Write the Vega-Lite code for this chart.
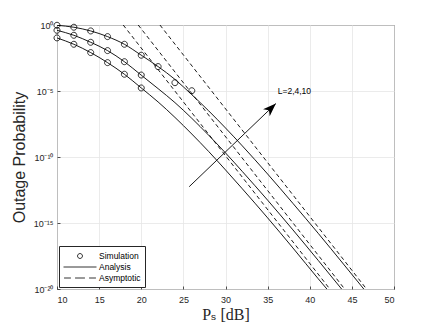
{
  "$schema": "https://vega.github.io/schema/vega-lite/v6.json",
  "width": 337,
  "height": 264,
  "autosize": {"type": "none"},
  "padding": {"left": 57, "top": 25, "right": 42, "bottom": 38},
  "background": "white",
  "config": {
    "view": {"stroke": "#262626", "strokeWidth": 1},
    "axis": {
      "labelFont": "Liberation Sans",
      "labelFontSize": 9,
      "labelColor": "#262626",
      "gridColor": "#e6e6e6",
      "gridWidth": 0.8,
      "domain": false,
      "tickColor": "#262626",
      "tickSize": -3,
      "tickWidth": 0.8
    }
  },
  "datasets": {
    "asym": [
      {"L": "2", "x": 17.86, "P": 1},
      {"L": "2", "x": 42.38, "P": 1e-20},
      {"L": "4", "x": 19.64, "P": 1},
      {"L": "4", "x": 44.14, "P": 1e-20},
      {"L": "10", "x": 22.22, "P": 1},
      {"L": "10", "x": 46.74, "P": 1e-20}
    ],
    "analysis": [
      {"L": "2", "x": 10, "P": 0.105},
      {"L": "2", "x": 12, "P": 0.0347},
      {"L": "2", "x": 14, "P": 8.13e-3},
      {"L": "2", "x": 16, "P": 1.41e-3},
      {"L": "2", "x": 18, "P": 1.86e-4},
      {"L": "2", "x": 20, "P": 1.70e-5},
      {"L": "2", "x": 22, "P": 1.48e-6},
      {"L": "2", "x": 24, "P": 1.0e-7},
      {"L": "2", "x": 26, "P": 5.50e-9},
      {"L": "2", "x": 28, "P": 2.63e-10},
      {"L": "2", "x": 30, "P": 1.05e-11},
      {"L": "2", "x": 32, "P": 3.89e-13},
      {"L": "2", "x": 35, "P": 2.45e-15},
      {"L": "2", "x": 38, "P": 1.29e-17},
      {"L": "2", "x": 41, "P": 6.03e-20},
      {"L": "2", "x": 43, "P": 1.86e-21},
      {"L": "4", "x": 10, "P": 0.398},
      {"L": "4", "x": 12, "P": 0.166},
      {"L": "4", "x": 14, "P": 0.049},
      {"L": "4", "x": 16, "P": 0.0115},
      {"L": "4", "x": 18, "P": 1.66e-3},
      {"L": "4", "x": 20, "P": 1.58e-4},
      {"L": "4", "x": 22, "P": 1.51e-5},
      {"L": "4", "x": 24, "P": 1.32e-6},
      {"L": "4", "x": 26, "P": 8.51e-8},
      {"L": "4", "x": 28, "P": 4.47e-9},
      {"L": "4", "x": 30, "P": 2.04e-10},
      {"L": "4", "x": 32, "P": 7.94e-12},
      {"L": "4", "x": 35, "P": 5.37e-14},
      {"L": "4", "x": 38, "P": 3.02e-16},
      {"L": "4", "x": 41, "P": 1.48e-18},
      {"L": "4", "x": 44, "P": 6.76e-21},
      {"L": "10", "x": 10, "P": 0.955},
      {"L": "10", "x": 12, "P": 0.676},
      {"L": "10", "x": 14, "P": 0.355},
      {"L": "10", "x": 16, "P": 0.132},
      {"L": "10", "x": 18, "P": 0.0347},
      {"L": "10", "x": 20, "P": 5.13e-3},
      {"L": "10", "x": 22, "P": 7.08e-4},
      {"L": "10", "x": 24, "P": 7.59e-5},
      {"L": "10", "x": 26, "P": 5.25e-6},
      {"L": "10", "x": 28, "P": 3.16e-7},
      {"L": "10", "x": 30, "P": 1.58e-8},
      {"L": "10", "x": 32, "P": 6.92e-10},
      {"L": "10", "x": 35, "P": 5.13e-12},
      {"L": "10", "x": 38, "P": 3.09e-14},
      {"L": "10", "x": 41, "P": 1.66e-16},
      {"L": "10", "x": 44, "P": 7.76e-19},
      {"L": "10", "x": 47, "P": 3.47e-21}
    ],
    "sim": [
      {"L": "2", "series": "Simulation", "x": 10, "P": 0.105},
      {"L": "2", "series": "Simulation", "x": 12, "P": 0.0347},
      {"L": "2", "series": "Simulation", "x": 14, "P": 8.13e-3},
      {"L": "2", "series": "Simulation", "x": 16, "P": 1.41e-3},
      {"L": "2", "series": "Simulation", "x": 18, "P": 1.86e-4},
      {"L": "2", "series": "Simulation", "x": 20, "P": 1.70e-5},
      {"L": "4", "series": "Simulation", "x": 10, "P": 0.398},
      {"L": "4", "series": "Simulation", "x": 12, "P": 0.166},
      {"L": "4", "series": "Simulation", "x": 14, "P": 0.049},
      {"L": "4", "series": "Simulation", "x": 16, "P": 0.0115},
      {"L": "4", "series": "Simulation", "x": 18, "P": 1.66e-3},
      {"L": "4", "series": "Simulation", "x": 20, "P": 1.62e-4},
      {"L": "10", "series": "Simulation", "x": 10, "P": 0.955},
      {"L": "10", "series": "Simulation", "x": 12, "P": 0.676},
      {"L": "10", "series": "Simulation", "x": 14, "P": 0.355},
      {"L": "10", "series": "Simulation", "x": 16, "P": 0.132},
      {"L": "10", "series": "Simulation", "x": 18, "P": 0.0347},
      {"L": "10", "series": "Simulation", "x": 20, "P": 5.13e-3},
      {"L": "10", "series": "Simulation", "x": 22, "P": 7.08e-4},
      {"L": "10", "series": "Simulation", "x": 24, "P": 4.27e-5},
      {"L": "10", "series": "Simulation", "x": 26, "P": 1.05e-5}
    ],
    "arrow": [
      {"x": 25.69, "P": 5.62e-13},
      {"x": 35.98, "P": 1.12e-6}
    ],
    "note": [
      {"x": 36.2, "P": 1e-5, "label": "L=2,4,10"}
    ],
    "xticks": [
      {"x": 15}, {"x": 20}, {"x": 25}, {"x": 30}, {"x": 35}, {"x": 40}, {"x": 45}
    ],
    "yticks": [
      {"P": 1e-5}, {"P": 1e-10}, {"P": 1e-15}
    ]
  },
  "encoding": {
    "x": {"field": "x", "type": "quantitative",
      "scale": {"type": "linear", "domain": [10, 50], "nice": false, "zero": false},
      "axis": {"values": [10, 15, 20, 25, 30, 35, 40, 45, 50], "grid": true, "labelPadding": 9,
        "title": "Pₛ [dB]", "titleFont": "Liberation Serif, DejaVu Serif", "titleFontSize": 16, "titleFontWeight": "normal",
        "titleColor": "#262626", "titlePadding": 2}},
    "y": {"field": "P", "type": "quantitative",
      "scale": {"type": "log", "domain": [1e-20, 1], "nice": false},
      "axis": {"values": [1, 1e-5, 1e-10, 1e-15, 1e-20], "grid": true, "labelPadding": 7,
        "labelExpr": "datum.value >= 0.5 ? '10⁰' : datum.value >= 1e-6 ? '10⁻⁵' : datum.value >= 1e-11 ? '10⁻¹⁰' : datum.value >= 1e-16 ? '10⁻¹⁵' : '10⁻²⁰'",
        "title": "Outage Probability", "titleFont": "Liberation Sans", "titleFontSize": 16, "titleFontWeight": "normal",
        "titleColor": "#262626", "titlePadding": 6}}
  },
  "layer": [
    {
      "data": {"name": "asym"},
      "mark": {"type": "line", "color": "black", "strokeWidth": 0.9, "strokeDash": [4, 3], "clip": true},
      "encoding": {"detail": {"field": "L"}}
    },
    {
      "data": {"name": "analysis"},
      "mark": {"type": "line", "color": "black", "strokeWidth": 0.9, "interpolate": "monotone", "clip": true},
      "encoding": {"detail": {"field": "L"}}
    },
    {
      "data": {"name": "sim"},
      "mark": {"type": "point", "filled": false, "stroke": "black", "strokeWidth": 0.8, "size": 178, "opacity": 1},
      "encoding": {
        "shape": {"field": "series", "type": "nominal",
          "scale": {"domain": ["Simulation", "Analysis", "Asymptotic"],
            "range": ["M-0.45,0A0.45,0.45,0,1,0,0.45,0A0.45,0.45,0,1,0,-0.45,0Z", "M-3,0H3", "M-2.9,0H-1.65M-0.9,0H0.9M1.65,0H2.9"]},
          "legend": {"title": null, "orient": "bottom-left", "offset": 2, "symbolSize": 121, "symbolOffset": 11,
            "symbolStrokeColor": "black", "symbolStrokeWidth": 0.8, "symbolFillColor": "transparent",
            "labelFont": "Liberation Sans", "labelFontSize": 8.5, "labelColor": "black", "labelOffset": 13,
            "fillColor": "white", "strokeColor": "#262626", "padding": 4, "rowPadding": 0}}
      }
    },
    {
      "data": {"name": "arrow"},
      "mark": {"type": "line", "color": "black", "strokeWidth": 0.9}
    },
    {
      "data": {"name": "arrow"},
      "transform": [{"filter": "datum.x > 30"}],
      "mark": {"type": "point", "shape": "M0,0L-0.4,1.1L0,0.8L0.4,1.1Z", "angle": 46, "size": 576, "filled": true, "color": "black", "opacity": 1}
    },
    {
      "data": {"name": "note"},
      "mark": {"type": "text", "align": "left", "baseline": "middle", "font": "Liberation Sans", "fontSize": 8.5, "color": "black"},
      "encoding": {"text": {"field": "label"}}
    },
    {
      "data": {"name": "xticks"},
      "mark": {"type": "tick", "orient": "vertical", "size": 6, "thickness": 0.8, "color": "#262626", "opacity": 1, "clip": true},
      "encoding": {"y": {"datum": 1}}
    },
    {
      "data": {"name": "yticks"},
      "mark": {"type": "tick", "orient": "horizontal", "size": 6, "thickness": 0.8, "color": "#262626", "opacity": 1, "clip": true},
      "encoding": {"x": {"datum": 50}}
    }
  ]
}
